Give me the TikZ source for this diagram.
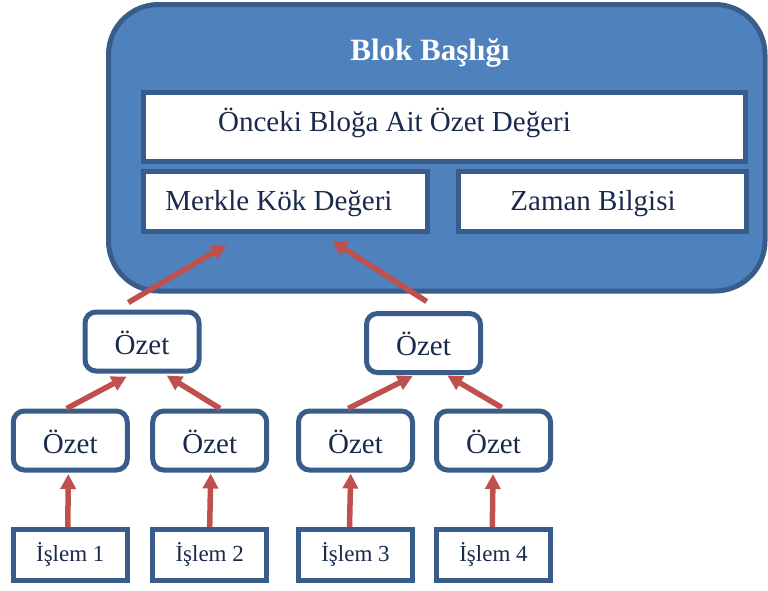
\documentclass[tikz,border=0pt]{standalone}
\usepackage{fontspec}
\setmainfont{Liberation Serif}
\usetikzlibrary{arrows.meta}
\definecolor{hdrfill}{RGB}{79,129,189}
\definecolor{hdrline}{RGB}{56,93,138}
\definecolor{txt}{RGB}{26,42,76}
\definecolor{arrred}{RGB}{192,80,77}
\begin{document}
\begin{tikzpicture}[x=1pt,y=-1pt,
  header/.style={draw=hdrline, line width=5pt, fill=hdrfill, rounded corners=50pt, inner sep=0pt},
  field/.style={draw=hdrline, line width=5pt, fill=white, inner sep=0pt},
  fieldtext/.style={text=txt, font=\fontsize{29}{32}\selectfont, inner sep=0pt, anchor=base},
  ozet/.style={draw=hdrline, line width=5pt, fill=white, rounded corners=11pt, minimum width=114pt, minimum height=59pt, inner sep=0pt, text=txt, font=\fontsize{29}{32}\selectfont, text height=25pt, text depth=0pt},
  islem/.style={draw=hdrline, line width=5pt, fill=white, minimum width=114pt, minimum height=51pt, inner sep=0pt, text=txt, font=\fontsize{23}{26}\selectfont, text height=13.4pt, text depth=0pt},
  arr/.style={draw=arrred, line width=5.5pt, -{Triangle[length=15pt,width=15pt]}}
]
\useasboundingbox (0,0) rectangle (768,590);
% header block
\node[header, minimum width=656.5pt, minimum height=286.5pt] (hdr) at (436.75,147.75) {};
\node[text=white, font=\bfseries\fontsize{31}{34}\selectfont, inner sep=0pt, anchor=base] (title) at (430,60) {Blok Başlığı};
\node[field, minimum width=602pt, minimum height=69pt] (prev) at (444.5,127) {};
\node[fieldtext] (prevtxt) at (394.5,131.7) {Önceki Bloğa Ait Özet Değeri};
\node[field, minimum width=284.5pt, minimum height=60pt] (merkle) at (285.3,201.5) {};
\node[fieldtext] (merkletxt) at (279,210.7) {Merkle Kök Değeri};
\node[field, minimum width=287.5pt, minimum height=60pt] (zaman) at (602.3,201.5) {};
\node[fieldtext] (zamantxt) at (593,210.7) {Zaman Bilgisi};
% tree
\node[ozet] (oza) at (142,341.5) {Özet};
\node[ozet] (ozb) at (423.5,343) {Özet};
\node[ozet] (o1) at (70.3,440.5) {Özet};
\node[ozet] (o2) at (209.7,440.5) {Özet};
\node[ozet] (o3) at (355.5,440.5) {Özet};
\node[ozet] (o4) at (493.5,440.5) {Özet};
\node[islem] (i1) at (70.3,555) {İşlem 1};
\node[islem] (i2) at (209.7,555) {İşlem 2};
\node[islem] (i3) at (355.5,555) {İşlem 3};
\node[islem] (i4) at (493.5,555) {İşlem 4};
% arrows
\draw[arr] ([xshift=-2.5pt]i1.north) -- ([xshift=-2pt,yshift=-1.5pt]o1.south);
\draw[arr] ([xshift=0pt]i2.north) -- ([xshift=1pt,yshift=-1pt]o2.south);
\draw[arr] ([xshift=-6pt]i3.north) -- ([xshift=-4.8pt,yshift=-1pt]o3.south);
\draw[arr] ([xshift=-1.2pt]i4.north) -- ([xshift=-0.5pt,yshift=-1.5pt]o4.south);
\draw[arr] ([xshift=-3.6pt]o1.north) -- ([xshift=-15.3pt,yshift=-3pt]oza.south);
\draw[arr] ([xshift=10.3pt]o2.north) -- ([xshift=24.7pt,yshift=-2pt]oza.south);
\draw[arr] ([xshift=-7.2pt]o3.north) -- ([xshift=-10.8pt,yshift=-1pt]ozb.south);
\draw[arr] ([xshift=8.2pt,yshift=1pt]o4.north) -- ([xshift=23.8pt,yshift=-0.5pt]ozb.south);
\draw[arr] ([xshift=-13.7pt,yshift=7pt]oza.north) -- ([xshift=-58.8pt,yshift=-10.8pt]merkle.south);
\draw[arr] ([xshift=3.2pt,yshift=9.5pt]ozb.north) -- ([xshift=46.7pt,yshift=-6.8pt]merkle.south);
\end{tikzpicture}
\end{document}
